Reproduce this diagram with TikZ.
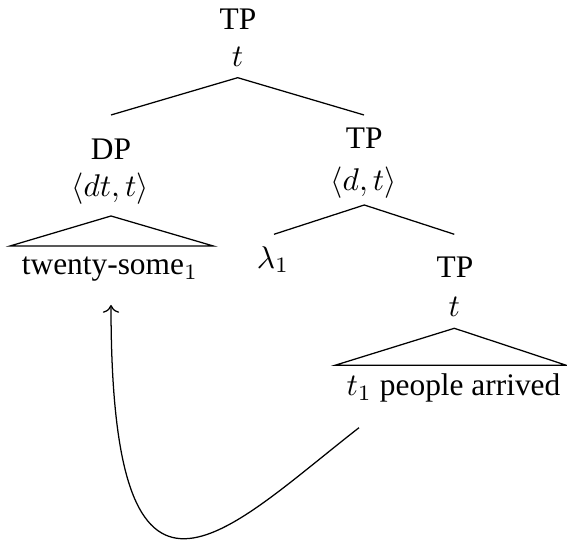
\documentclass[tikz,border=0pt]{standalone}
\usepackage{fontspec}
\setmainfont{Liberation Serif}
\usepackage{tikz}
\usetikzlibrary{arrows.meta, positioning}
\tikzset{
    % Category and type labels - plain text, set on their baseline
    label text/.style={inner sep=0pt, anchor=base},
    % Tree branches - thin black lines
    branch/.style={black, line width=0.4pt},
    % Movement arrow - thin curve with a small tip
    move arrow/.style={black, line width=0.4pt, ->}
}

\begin{document}
\begin{tikzpicture}[x=0.3185pt, y=-0.3185pt]
    \useasboundingbox (0,0) rectangle (567,544);

    % --- Root ---
    \node[label text] (rootcat) at (238,29.3) {TP};
    \node[label text] (roottype) at (237.6,66.7) {$t$};

    % --- Left daughter (DP) ---
    \node[label text] (dpcat) at (111,160) {DP};
    \node[label text] (dptype) at (110,196.7) {$\langle dt,t\rangle$};
    \node[label text] (dpword) at (110,275) {twenty-some$_1$};

    % --- Right daughter (TP) ---
    \node[label text] (tpcat) at (364.2,148.3) {TP};
    \node[label text] (tptype) at (363.5,190.7) {$\langle d,t\rangle$};
    \node[label text] (lambda) at (273,268.3) {$\lambda_1$};

    % --- Lower TP ---
    \node[label text] (lowcat) at (455,278) {TP};
    \node[label text] (lowtype) at (454.3,316.7) {$t$};
    \node[label text] (lowword) at (453.5,396) {$t_1$ people arrived};

    % --- Branch points ---
    \coordinate (rootapex) at (237.7,77.7);
    \coordinate (rootleft) at (111,115);
    \coordinate (rootright) at (364,115);
    \coordinate (tpapex) at (364.3,205);
    \coordinate (tpleft) at (274,234.3);
    \coordinate (tpright) at (454.3,234.3);

    % --- Branches ---
    \draw[branch] (rootleft) -- (rootapex) -- (rootright);
    \draw[branch] (tpleft) -- (tpapex) -- (tpright);

    % --- Triangles over the words ---
    \coordinate (dpapex) at (111,216);
    \coordinate (dpbl) at (10,246);
    \coordinate (dpbr) at (213.3,246);
    \draw[branch] (dpbl) -- (dpapex) -- (dpbr) -- cycle;
    \coordinate (lowapex) at (454.3,328.3);
    \coordinate (lowbl) at (335,365.3);
    \coordinate (lowbr) at (566.3,365.3);
    \draw[branch] (lowbl) -- (lowapex) -- (lowbr) -- cycle;

    % --- Movement arrow ---
    \coordinate (trace) at (359,427.7);
    \coordinate (landing) at (111,305);
    \draw[move arrow] (trace) .. controls (225,532) and (111,660) .. (landing);

\end{tikzpicture}
\end{document}
